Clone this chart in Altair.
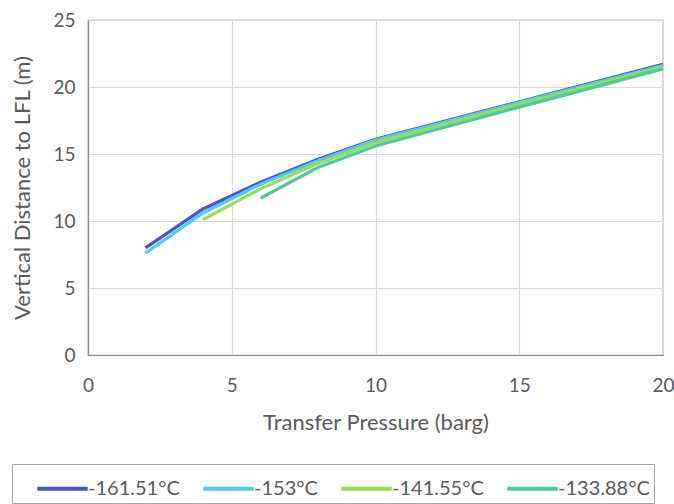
import altair as alt
import pandas as pd

# Transfer pressure (barg) sample points
pressure = [2, 4, 6, 8, 10, 15, 20]

# Vertical distance to LFL (m) for each liquid temperature; None = no result
series_labels = ["-161.51°C", "-153°C", "-141.55°C", "-133.88°C"]
dist_161 = [8.0, 10.9, 12.9, 14.6, 16.1, 18.9, 21.7]
dist_153 = [7.6, 10.6, 12.75, 14.5, 16.05, 18.85, 21.6]
dist_141 = [None, 10.1, 12.4, 14.3, 15.85, 18.7, 21.5]
dist_133 = [None, None, 11.7, 14.0, 15.6, 18.5, 21.35]

colors = ["#4459C4", "#55C8F5", "#92E050", "#4FC99B"]

rows = []
for label, values in zip(series_labels, [dist_161, dist_153, dist_141, dist_133]):
    for p, v in zip(pressure, values):
        if v is not None:
            rows.append({"pressure": p, "distance": v, "temperature": label})
df = pd.DataFrame(rows)

font = "Lato"
grey_text = "#595959"

chart = (
    alt.Chart(df, background="white")
    .mark_line(strokeWidth=3.2)
    .encode(
        x=alt.X(
            "pressure:Q",
            title="Transfer  Pressure  (barg)",
            scale=alt.Scale(domain=[0, 20], nice=False),
            axis=alt.Axis(
                values=[0, 5, 10, 15, 20],
                ticks=False,
                labelFlush=False,
                labelPadding=21,
                titlePadding=17,
                labelFontSize=19,
                titleFontSize=22,
            ),
        ),
        y=alt.Y(
            "distance:Q",
            title="Vertical Distance to LFL (m)",
            scale=alt.Scale(domain=[0, 25], nice=False),
            axis=alt.Axis(
                values=[0, 5, 10, 15, 20, 25],
                ticks=False,
                labelFlush=False,
                labelPadding=13,
                titlePadding=18,
                labelFontSize=19,
                titleFontSize=22,
            ),
        ),
        color=alt.Color(
            "temperature:N",
            scale=alt.Scale(domain=series_labels, range=colors),
            sort=series_labels,
            legend=alt.Legend(
                title=None,
                orient="none",
                direction="horizontal",
                columns=4,
                legendX=-76,
                legendY=444,
                symbolType="M-1.4,0H1.4",
                symbolSize=1300,
                symbolStrokeWidth=4,
                symbolOffset=26,
                labelOffset=5,
                labelFontSize=20,
                columnPadding=2,
                padding=4,
                strokeColor="#a6a6a6",
                fillColor="white",
                labelColor=grey_text,
                labelFont=font,
            ),
        ),
        order=alt.Order("pressure:Q"),
        detail="temperature:N",
    )
    .properties(
        width=575,
        height=335,
        autosize=alt.AutoSizeParams(type="none"),
        padding={"left": 88, "top": 20, "right": 11, "bottom": 149},
    )
    .configure_view(stroke="#8c8c8c", strokeWidth=1.2)
    .configure_axis(
        grid=True,
        gridColor="#d9d9d9",
        gridWidth=1.2,
        domainColor="#8c8c8c",
        domainWidth=1.2,
        labelColor=grey_text,
        titleColor=grey_text,
        labelFont=font,
        titleFont=font,
        titleFontWeight="normal",
    )
)

chart.save("out.html", embed_options={"renderer": "svg", "actions": False})
